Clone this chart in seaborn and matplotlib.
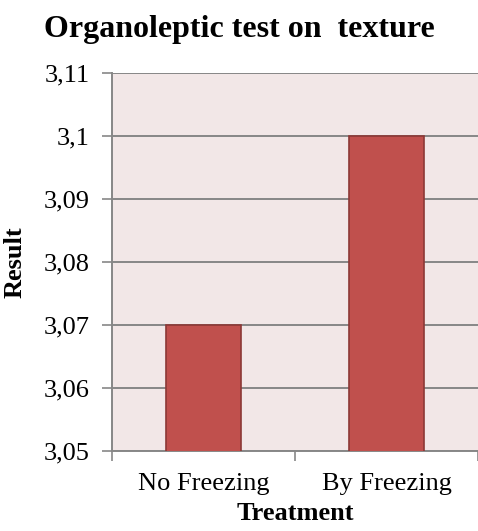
import matplotlib

matplotlib.use("Agg")
import matplotlib.pyplot as plt
import pandas as pd
import seaborn as sns
from matplotlib.ticker import FuncFormatter, FixedLocator

treatments = ["No Freezing", "By Freezing"]
results = [3.07, 3.10]
y_ticks = [3.05, 3.06, 3.07, 3.08, 3.09, 3.10, 3.11]

df = pd.DataFrame({"Treatment": treatments, "Result": results})

sns.set_theme(style="white")
plt.rcParams["font.family"] = ["Liberation Serif", "DejaVu Serif"]
plt.rcParams["text.color"] = "black"
plt.rcParams["axes.labelcolor"] = "black"
plt.rcParams["xtick.labelcolor"] = "black"
plt.rcParams["ytick.labelcolor"] = "black"

fig = plt.figure(figsize=(4.78, 5.31), dpi=100)
ax = fig.add_axes([0.234, 0.1507, 0.766, 0.7118])
ax.set_facecolor("#F2E7E7")

sns.barplot(data=df, x="Treatment", y="Result", color="#C0504D", width=0.41,
            edgecolor="#8C3836", linewidth=1.2, saturation=1, ax=ax, zorder=3)

ax.set_ylim(3.05, 3.11)
ax.set_xlim(-0.5, 1.5)
ax.set_yticks(y_ticks)
ax.yaxis.set_major_formatter(FuncFormatter(lambda v, _: f"{v:.2f}".rstrip("0").replace(".", ",")))
ax.grid(axis="y", color="#878787", linewidth=1.4, zorder=1)
ax.set_axisbelow(True)

for s in ["top", "right"]:
    ax.spines[s].set_visible(False)
for s in ["left", "bottom"]:
    ax.spines[s].set_color("#878787")
    ax.spines[s].set_linewidth(1.4)

ax.tick_params(axis="y", length=7, width=1.2, color="#878787", labelsize=19, pad=9, left=True)
ax.tick_params(axis="x", which="major", length=0, labelsize=19, pad=16)
ax.xaxis.set_minor_locator(FixedLocator([-0.5, 0.5, 1.5]))
ax.tick_params(axis="x", which="minor", length=7, width=1.2, color="#878787", bottom=True)

ax.set_xlabel("Treatment", fontsize=19, fontweight="bold", labelpad=5)
ax.set_ylabel("Result", fontsize=19, fontweight="bold", labelpad=12)
fig.text(0.50, 0.945, "Organoleptic test on  texture", fontsize=23, fontweight="bold", ha="center", va="center")

fig.savefig("out.png", dpi=100)
plt.close(fig)
